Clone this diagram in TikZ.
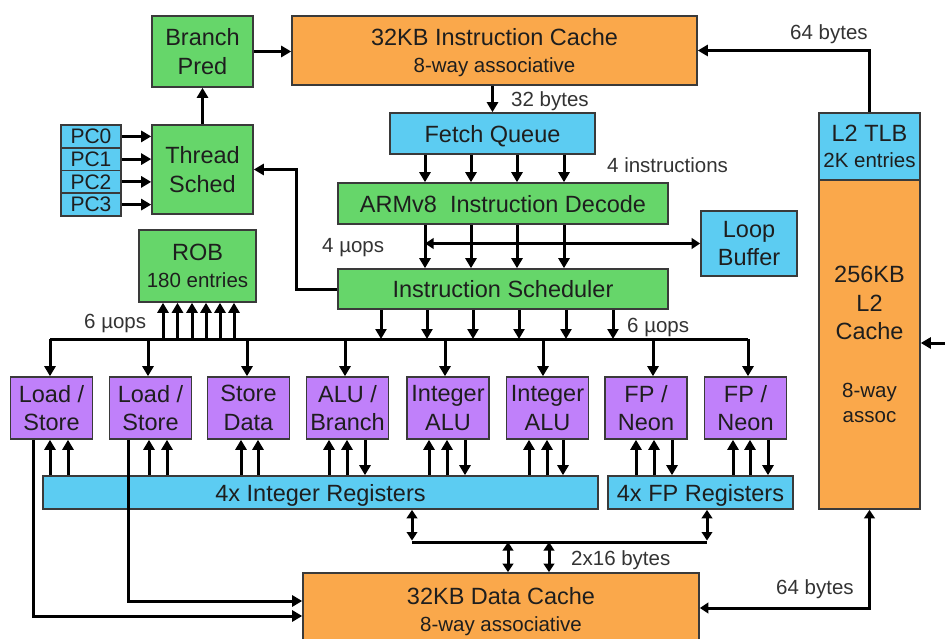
\documentclass[tikz,border=0pt]{standalone}
\usepackage{fontspec}
\setmainfont{Liberation Sans}
\usetikzlibrary{arrows.meta,calc}

\definecolor{cacheorange}{HTML}{FAA84B}
\definecolor{ctrlgreen}{HTML}{66D66A}
\definecolor{bufblue}{HTML}{5CCCF2}
\definecolor{unitpurple}{HTML}{C080FA}
\definecolor{edgegray}{HTML}{3A3A3A}
\definecolor{inkdark}{HTML}{1E1E1E}
\definecolor{labelgray}{HTML}{333333}

\newcommand\mainsz{\fontsize{23.5}{28.5}\selectfont}
\newcommand\subsz{\fontsize{20.5}{25}\selectfont}

\tikzset{
  blk/.style={draw=edgegray, line width=1.6pt, inner sep=0pt, align=center,
              text=inkdark, font=\mainsz, text depth=0pt},
  lower/.style={text depth=-#1},
  cachebox/.style={blk, fill=cacheorange},
  ctrlbox/.style={blk, fill=ctrlgreen},
  bufbox/.style={blk, fill=bufblue},
  unitbox/.style={blk, fill=unitpurple, minimum width=82pt, minimum height=62pt, lower=4pt},
  pcbox/.style={blk, fill=bufblue, font=\fontsize{21}{25}\selectfont,
                minimum width=60pt, minimum height=22.75pt},
  wire/.style={line width=3pt, draw=black},
  arr/.style={wire, -{Triangle[length=10pt,width=11pt]}},
  biarr/.style={wire, {Triangle[length=8.5pt,width=10.5pt]}-{Triangle[length=8.5pt,width=10.5pt]}},
  lbl/.style={inner sep=0pt, anchor=west, text=labelgray, font=\subsz,
              text height=14.7pt, text depth=0pt},
}

\begin{document}
\begin{tikzpicture}[x=1pt, y=-1pt]
\useasboundingbox (0,0) rectangle (945,639);
\fill[white] (0,0) rectangle (945,639);

% ---------- front end ----------
\node[ctrlbox, minimum width=101pt, minimum height=71pt, lower=2pt] (bp) at (202.5,51.5) {Branch\\Pred};
\node[cachebox, minimum width=405pt, minimum height=69pt, lower=1.7pt] (icache) at (494.5,50.5)
  {32KB Instruction Cache\\[-1.5pt]{\subsz 8-way associative}};
\node[ctrlbox, minimum width=101pt, minimum height=89pt] (ts) at (202.5,169.5) {Thread\\Sched};
\node[pcbox] (pc0) at (91,136.4) {PC0};
\node[pcbox] (pc1) at (91,159.1) {PC1};
\node[pcbox] (pc2) at (91,181.9) {PC2};
\node[pcbox] (pc3) at (91,204.6) {PC3};
\node[bufbox, minimum width=205pt, minimum height=41pt] (fq) at (492.5,133.5) {Fetch Queue};
\node[ctrlbox, minimum width=330pt, minimum height=41pt] (dec) at (503,203.5) {ARMv8\ \ Instruction Decode};
\node[bufbox, minimum width=96pt, minimum height=65pt, lower=2pt] (lb) at (749,243.5) {Loop\\Buffer};
\node[ctrlbox, minimum width=330pt, minimum height=40pt] (sch) at (503,289) {Instruction Scheduler};
\node[ctrlbox, minimum width=117pt, minimum height=72pt, lower=4pt] (rob) at (197.5,266)
  {ROB\\[-2pt]{\subsz 180 entries}};

% ---------- L2 ----------
\node[bufbox, minimum width=101pt, minimum height=67pt, lower=4pt] (tlb) at (869.5,146.5)
  {L2 TLB\\[-2.5pt]{\subsz 2K entries}};
\node[cachebox, minimum width=101pt, minimum height=329pt, lower=2pt] (l2) at (869.5,344.5)
  {256KB\\L2\\Cache\\[29pt]{\subsz 8-way}\\[-3.5pt]{\subsz assoc}};

% ---------- execution units ----------
\node[unitbox] (u1) at (51.5,408)  {Load /\\Store};
\node[unitbox] (u2) at (150.5,408) {Load /\\Store};
\node[unitbox] (u3) at (248.5,408) {Store\\Data};
\node[unitbox] (u4) at (347.5,408) {ALU /\\Branch};
\node[unitbox] (u5) at (448,408)   {Integer\\ALU};
\node[unitbox] (u6) at (547.5,408) {Integer\\ALU};
\node[unitbox] (u7) at (646,408)   {FP /\\Neon};
\node[unitbox] (u8) at (745.5,408) {FP /\\Neon};

\node[bufbox, minimum width=555pt, minimum height=33pt] (ireg) at (320.5,492.5) {4x Integer Registers};
\node[bufbox, minimum width=185pt, minimum height=33pt] (freg) at (700.5,492.5) {4x FP Registers};

\node[cachebox, minimum width=396pt, minimum height=73pt, lower=1.7pt] (dcache) at (501,609.5)
  {32KB Data Cache\\[-1.5pt]{\subsz 8-way associative}};

% ---------- front-end connectors ----------
\draw[arr] (bp.east) -- (bp.east -| icache.west);
\draw[arr] (ts.north) -- (bp.south);
\foreach \p in {pc0,pc1,pc2,pc3}
  \draw[arr] (\p.east) -- (\p.east -| ts.west);
\draw[arr] (fq.north |- icache.south) -- (fq.north);
\foreach \x in {425,471,517,564} {
  \draw[arr] (\x,0 |- fq.south) -- (\x,0 |- dec.north);
  \draw[arr] (\x,0 |- dec.south) -- (\x,0 |- sch.north);
}
\draw[biarr] (425,0 |- lb.west) -- (lb.west);
\draw[arr] (sch.west) -| ([xshift=43pt]ts.east) -- (ts.east);
\draw[arr] (tlb.north) |- (icache.east);

% ---------- issue bus ----------
\coordinate (busL) at (50,339);
\coordinate (busR) at (748,339);
\draw[wire] (busL) -- (busR);
\foreach \x in {381,427,473,519,566,613}
  \draw[arr] (\x,0 |- sch.south) -- (\x,0 |- busL);
\foreach \x in {163,177.5,192,206,220,234}
  \draw[arr] (\x,0 |- busL) -- (\x,0 |- rob.south);
\foreach \x/\u in {50/u1,148/u2,247/u3,345/u4,445/u5,543/u6,653/u7,748/u8}
  \draw[arr] (\x,0 |- busL) -- (\x,0 |- \u.north);

% ---------- register reads and writes ----------
\foreach \x/\u in {50/u1,68/u1,149/u2,167/u2,241/u3,258/u3,329/u4,347/u4,429/u5,447/u5,529/u6,547/u6}
  \draw[arr] (\x,0 |- ireg.north) -- (\x,0 |- \u.south);
\foreach \x/\u in {365/u4,465/u5,563/u6}
  \draw[arr] (\x,0 |- \u.south) -- (\x,0 |- ireg.north);
\foreach \x/\u in {636/u7,654/u7,733/u8,750/u8}
  \draw[arr] (\x,0 |- freg.north) -- (\x,0 |- \u.south);
\foreach \x/\u in {672/u7,768/u8}
  \draw[arr] (\x,0 |- \u.south) -- (\x,0 |- freg.north);

% ---------- load/store address paths ----------
\draw[arr] (33,0 |- u1.south) |- (dcache.west |- 0,616);
\draw[arr] (128,0 |- u2.south) |- (dcache.west |- 0,601);

% ---------- data cache ports ----------
\coordinate (dbL) at (412,542);
\coordinate (dbR) at (707,542);
\draw[wire] (dbL) -- (dbR);
\draw[biarr] (dbL |- ireg.south) -- ([yshift=1.5pt]dbL);
\draw[biarr] (dbR |- freg.south) -- ([yshift=1.5pt]dbR);
\foreach \x in {508,549}
  \draw[biarr] (\x,0 |- dbL) -- (\x,0 |- dcache.north);
\draw[biarr] (dcache.east |- 0,608) -| (l2.south);

% ---------- external port ----------
\coordinate (ext) at (945,343);
\draw[arr] (ext) -- (ext -| l2.east);

% ---------- labels ----------
\node[lbl] (t32)  at (511,99)  {32 bytes};
\node[lbl] (t4i)  at (607,165) {4 instructions};
\node[lbl] (t4u)  at (322,245) {4 µops};
\node[lbl] (t6l)  at (84,321)  {6 µops};
\node[lbl] (t6r)  at (627,325) {6 µops};
\node[lbl] (t64a) at (790,32)  {64 bytes};
\node[lbl] (t64b) at (776,587) {64 bytes};
\node[lbl] (t216) at (571,558) {2x16 bytes};
\end{tikzpicture}
\end{document}
